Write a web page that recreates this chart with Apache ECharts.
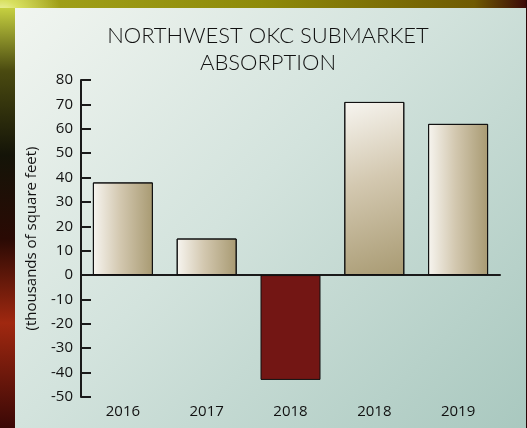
<!DOCTYPE html>
<html>
<head>
<meta charset="utf-8">
<script src="https://cdn.jsdelivr.net/npm/echarts@6/dist/echarts.min.js"></script>
<style>
  html, body { margin: 0; padding: 0; }
  body {
    width: 527px; height: 428px; overflow: hidden; position: relative;
    background:
      radial-gradient(circle at 2px 20px, #fbffd0 0, #d8e060 20px, rgba(120,140,20,0) 60px),
      radial-gradient(ellipse 14px 40px at 2px 320px, #ffd080 0, #c83a10 12px, rgba(120,20,10,0) 40px),
      linear-gradient(90deg, #a4a41c 0%, #8e8a0a 50%, #6f5a02 90%, #3a0808 100%);
  }
  .side {
    position: absolute; left: 0; top: 8px; width: 15px; height: 420px;
    background: linear-gradient(180deg, #c6d040 0%, #4a4a10 15%, #141408 35%, #2a0a04 55%, #a02810 75%, #3a0806 100%);
  }
  .panel {
    position: absolute; left: 15px; top: 8px; width: 511px; height: 420px;
    background: linear-gradient(135deg, #f1f5f0 0%, #d3e3dd 45%, #a9c8bf 100%);
  }
  .edge { position: absolute; right: 0; top: 0; width: 1px; height: 428px; background: #2a0606; }
  #chart { position: absolute; left: 0; top: 0; width: 527px; height: 428px; }
</style>
</head>
<body>
<div class="side"></div>
<div class="panel"></div>
<div class="edge"></div>
<div id="chart"></div>
<script>
var years = ['2016', '2017', '2018', '2018', '2019'];
var absorption = [38, 15, -43, 71, 62];

var beige = function (diag) {
    return new echarts.graphic.LinearGradient(0, 0, 1, diag ? 1 : 0, [
        { offset: 0, color: '#f7f5f0' },
        { offset: 0.45, color: '#d3c8b0' },
        { offset: 1, color: '#a89a72' }
    ]);
};

var myChart = echarts.init(document.getElementById('chart'));

var option = {
    backgroundColor: 'transparent',
    title: {
        text: 'NORTHWEST OKC SUBMARKET\nABSORPTION',
        left: 263,
        textAlign: 'center',
        top: 17,
        textStyle: {
            fontFamily: 'Lato',
            fontWeight: 300,
            fontSize: 22,
            lineHeight: 27,
            color: '#111'
        }
    },
    grid: { left: 81, right: 27, top: 80, bottom: 31 },
    xAxis: [
        {
            type: 'category',
            data: years,
            axisLine: { onZero: true, lineStyle: { color: '#1a1a1a', width: 2 } },
            axisTick: { inside: true, length: 8, lineStyle: { color: '#1a1a1a', width: 2 } },
            axisLabel: { show: false }
        },
        {
            type: 'category',
            data: years,
            position: 'bottom',
            axisLine: { show: false, onZero: false },
            axisTick: { show: false },
            axisLabel: { margin: 7, fontFamily: 'Open Sans', fontSize: 15, color: '#111' }
        }
    ],
    yAxis: {
        type: 'value',
        min: -50,
        max: 80,
        interval: 10,
        name: '(thousands of square feet)',
        nameLocation: 'middle',
        nameGap: 42,
        nameTextStyle: { fontFamily: 'Open Sans', fontSize: 15, color: '#111' },
        axisLine: { show: true, lineStyle: { color: '#1a1a1a', width: 2 } },
        axisTick: { show: true, inside: true, length: 10, lineStyle: { color: '#1a1a1a', width: 2 } },
        axisLabel: { margin: 8, fontFamily: 'Open Sans', fontSize: 15, color: '#111' },
        splitLine: { show: false }
    },
    series: [{
        type: 'bar',
        barWidth: 60,
        data: absorption.map(function (v, i) {
            return {
                value: v,
                itemStyle: {
                    color: v < 0 ? '#731614' : beige(i === 3),
                    borderColor: '#111',
                    borderWidth: 1
                }
            };
        })
    }]
};

myChart.setOption(option);
</script>
</body>
</html>
